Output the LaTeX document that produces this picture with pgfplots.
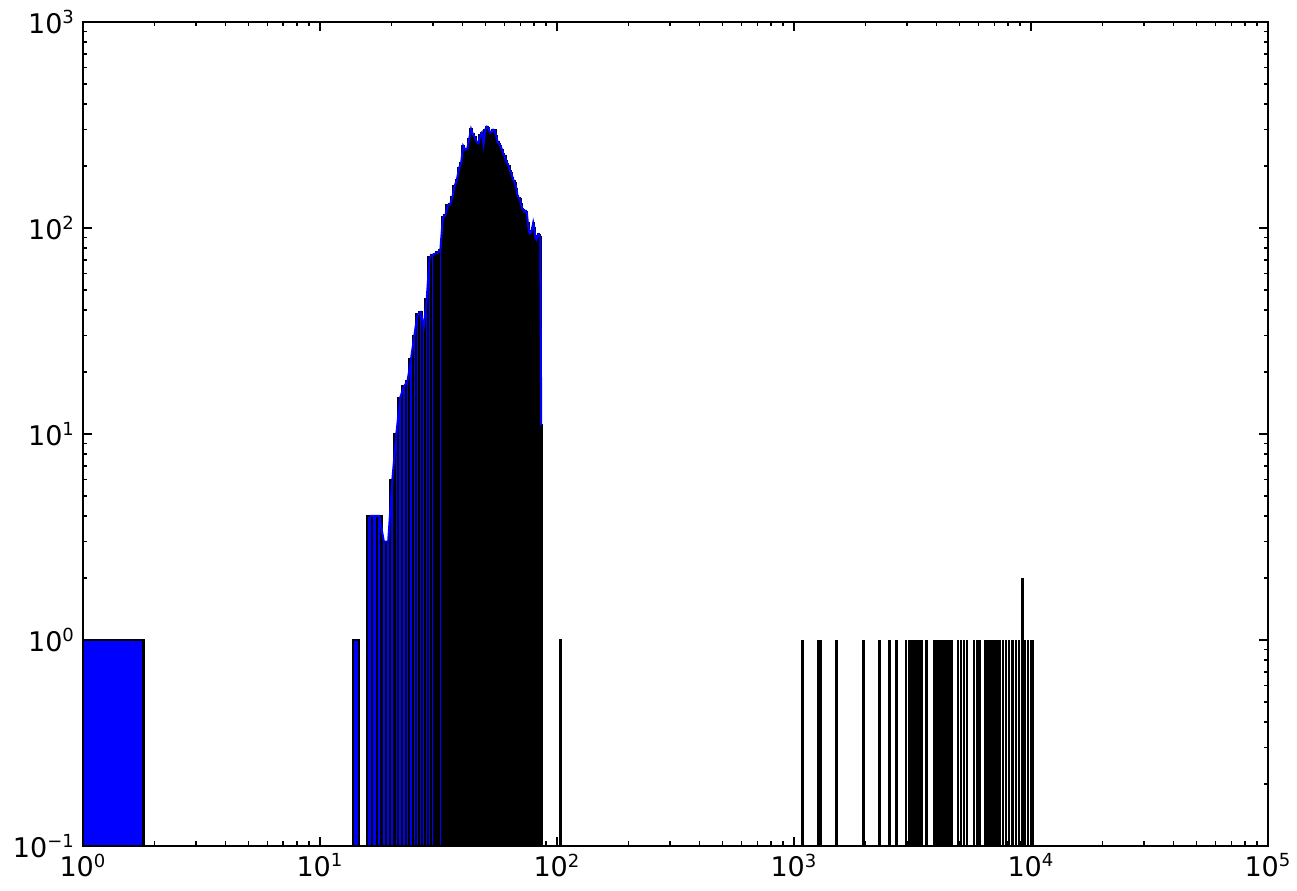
\documentclass[border=0pt]{standalone}
\usepackage{fontspec}
\setmainfont{DejaVu Sans}
\usepackage{pgfplots}
\usepackage{pgfplotstable}
\pgfplotsset{compat=1.18}
\usetikzlibrary{calc}

% contiguous bins of width 0.8 (left edge, count); last row = right edge only
\pgfplotstableread{
left count
15.8 4
16.6 4
17.4 4
18.2 3
19.0 3
19.8 6
20.6 10
21.4 15
22.2 17
23.0 18
23.8 23
24.6 30
25.4 38
26.2 39
27.0 33
27.8 45
28.6 72
29.4 74
30.2 75
31.0 76
31.8 78
32.6 113
33.4 115
34.2 129
35.0 130
35.8 141
36.6 160
37.4 171
38.2 195
39.0 207
39.8 250
40.6 240
41.4 242
42.2 270
43.0 302
43.8 285
44.6 275
45.4 262
46.2 258
47.0 282
47.8 290
48.6 255
49.4 300
50.2 310
51.0 305
51.8 290
52.6 292
53.4 300
54.2 298
55.0 280
55.8 260
56.6 255
57.4 250
58.2 240
59.0 228
59.8 224
60.6 210
61.4 205
62.2 200
63.0 188
63.8 185
64.6 175
65.4 168
66.2 165
67.0 155
67.8 143
68.6 140
69.4 138
70.2 130
71.0 124
71.8 122
72.6 120
73.4 121
74.2 119
75.0 105
75.8 96
76.6 94
77.4 95
78.2 100
79.0 106
79.8 100
80.6 90
81.4 88
82.2 91
83.0 93
83.8 92
84.6 90
85.4 11
86.2 11
}\bulk

% isolated bins far right (too narrow to show a fill)
\pgfplotstableread{
x count
1088 1
1272 1
1288 1
1514 1
1961 1
2291 1
2524 1
2713 1
2969 1
3077 1
3147 1
3218 1
3314 1
3392 1
3469 1
3630 1
3934 1
4040 1
4144 1
4254 1
4367 1
4479 1
4628 1
4920 1
5066 1
5216 1
5370 1
5747 1
5934 1
6092 1
6416 1
6605 1
6801 1
7002 1
7209 1
7401 1
7619 1
7844 1
8076 1
8339 1
8644 1
8899 1
9191 2
9435 1
9713 1
10000 1
10195 1
}\sparse

\begin{document}
\begin{tikzpicture}
\begin{axis}[
  scale only axis,
  width=526.3pt, height=365.9pt,
  xmode=log, ymode=log,
  log origin=infty,
  xmin=1, xmax=1e5, ymin=0.1, ymax=1000,
  xtick={1,10,100,1000,10000,100000},
  xticklabels={10\textsuperscript{0},10\textsuperscript{1},10\textsuperscript{2},10\textsuperscript{3},10\textsuperscript{4},10\textsuperscript{5}},
  ytick={0.1,1,10,100,1000},
  yticklabels={10\textsuperscript{−1},10\textsuperscript{0},10\textsuperscript{1},10\textsuperscript{2},10\textsuperscript{3}},
  x tick label as interval=false,
  tick label style={font=\fontsize{12}{14}\selectfont},
  axis line style={line width=0.9pt},
  tick style={black, line width=0.7pt},
  major tick length=4pt,
  minor tick length=2pt,
  tick align=inside,
]
\addplot[ybar interval, fill=blue, draw=black, line width=1pt]
  table[x=left, y=count] {\bulk};
\addplot[ybar interval, fill=blue, draw=black, line width=1pt]
  coordinates {(1,1) (1.8,1)};
\addplot[ybar interval, fill=blue, draw=black, line width=1pt]
  coordinates {(13.8,1) (14.6,1)};
\addplot[ybar interval, fill=blue, draw=black, line width=1pt]
  coordinates {(102.6,1) (103.4,1)};
\addplot[ycomb, black, line width=1.3pt]
  table[x=x, y=count] {\sparse};
% line through bin centres
\addplot[blue, line width=0.9pt, sharp plot, skip coords between index={88}{89}]
  table[x expr=\thisrow{left}+0.4, y=count] {\bulk};
\end{axis}
\pgfresetboundingbox
\path[use as bounding box] ($(current axis.south west)+(-36.86pt,-19.98pt)$)
  rectangle ($(current axis.north east)+(12.88pt,9.77pt)$);
\end{tikzpicture}
\end{document}
